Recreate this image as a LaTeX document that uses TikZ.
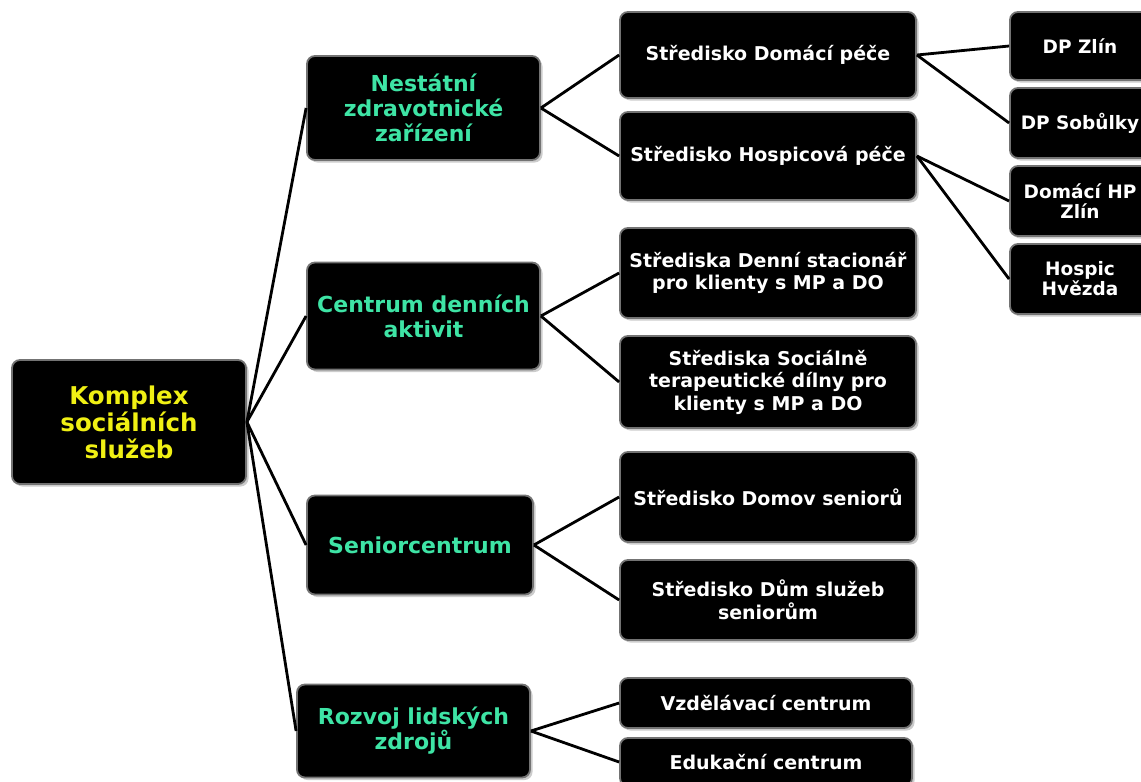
\documentclass[tikz,border=0pt]{standalone}
\usepackage{fontspec}
\setmainfont{DejaVu Sans}
\usetikzlibrary{shadows}
\definecolor{ylw}{RGB}{240,240,20}
\definecolor{grn}{RGB}{62,228,165}
\tikzset{
  box/.style={rounded corners=8pt, fill=black, draw=black!55, line width=1.8pt,
    drop shadow={shadow xshift=2.5pt, shadow yshift=-2.5pt, opacity=0.4},
    align=center, inner sep=0pt, font=\bfseries, text=white},
  rootbox/.style={box, text=ylw, font=\bfseries\fontsize{24.5}{27}\selectfont},
  lvlone/.style={box, text=grn, font=\bfseries\fontsize{22}{25}\selectfont},
  lvltwo/.style={box, minimum width=296pt, font=\bfseries\fontsize{19}{22.5}\selectfont},
  lvlthree/.style={box, minimum width=140pt, font=\bfseries\fontsize{18.5}{20}\selectfont},
  conn/.style={line width=2.8pt, black}
}
\begin{document}
\begin{tikzpicture}[x=1pt,y=-1pt]
\useasboundingbox (0,0) rectangle (1141,782);
\clip (0,0) rectangle (1141,782);
\fill[white] (0,0) rectangle (1141,782);
% root
\node[rootbox, minimum width=234pt, minimum height=124pt] (root) at (129,422) {Komplex\\sociálních\\služeb};
% level 1
\node[lvlone, minimum width=233pt, minimum height=104pt] (n1) at (423.5,108) {Nestátní\\zdravotnické\\zařízení};
\node[lvlone, minimum width=233pt, minimum height=107pt] (n2) at (423.5,316) {Centrum denních\\aktivit};
\node[lvlone, minimum width=226pt, minimum height=99pt] (n3) at (420,545) {Seniorcentrum};
\node[lvlone, minimum width=233pt, minimum height=93pt] (n4) at (413.5,731) {Rozvoj lidských\\zdrojů};
% level 2
\node[lvltwo, minimum height=86pt] (a1) at (768,55) {Středisko Domácí péče};
\node[lvltwo, minimum height=88pt] (a2) at (768,156) {Středisko Hospicová péče};
\node[lvltwo, minimum height=90pt] (b1) at (768,273) {Střediska Denní stacionář\\pro klienty s MP a DO};
\node[lvltwo, minimum height=92pt] (b2) at (768,382) {Střediska Sociálně\\terapeutické dílny pro\\klienty s MP a DO};
\node[lvltwo, minimum height=90pt] (c1) at (768,497) {Středisko Domov seniorů};
\node[lvltwo, minimum height=80pt] (c2) at (768,600) {Středisko Dům služeb\\seniorům};
\node[lvltwo, minimum width=292pt, minimum height=50pt] (d1) at (766,703) {Vzdělávací centrum};
\node[lvltwo, minimum width=292pt, minimum height=48pt] (d2) at (766,762) {Edukační centrum};
% level 3
\node[lvlthree, minimum height=68pt] (e1) at (1080,46) {DP Zlín};
\node[lvlthree, minimum height=70pt] (e2) at (1080,123) {DP Sobůlky};
\node[lvlthree, minimum height=70pt] (e3) at (1080,201) {Domácí HP\\Zlín};
\node[lvlthree, minimum height=70pt] (e4) at (1080,279) {Hospic\\Hvězda};
% connectors
\foreach \t in {n1,n2,n3,n4} \draw[conn] (root.east) -- (\t.west);
\draw[conn] (n1.east) -- (a1.west);
\draw[conn] (n1.east) -- (a2.west);
\draw[conn] (n2.east) -- (b1.west);
\draw[conn] (n2.east) -- (b2.west);
\draw[conn] (n3.east) -- (c1.west);
\draw[conn] (n3.east) -- (c2.west);
\draw[conn] (n4.east) -- (d1.west);
\draw[conn] (n4.east) -- (d2.west);
\draw[conn] (a1.east) -- (e1.west);
\draw[conn] (a1.east) -- (e2.west);
\draw[conn] (a2.east) -- (e3.west);
\draw[conn] (a2.east) -- (e4.west);
\end{tikzpicture}
\end{document}
